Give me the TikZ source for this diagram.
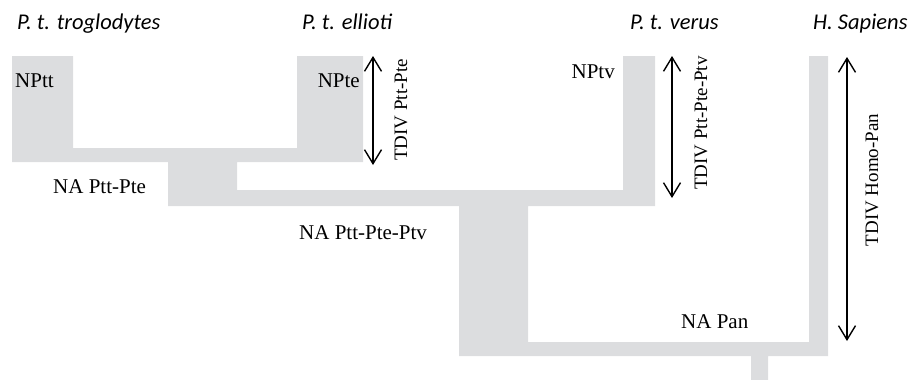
\documentclass[tikz,border=0pt]{standalone}
\usepackage{fontspec}
\setmainfont{Liberation Serif}
\newfontfamily\labelfont{Carlito}
\usetikzlibrary{arrows.meta}
\definecolor{branchgray}{RGB}{220,221,223}
\tikzset{
    taxon/.style={font=\labelfont\itshape\fontsize{22.5}{26}\selectfont, anchor=base west, inner sep=0pt},
    pop/.style={font=\fontsize{21}{25}\selectfont, inner sep=0pt},
    tdivlabel/.style={font=\fontsize{19}{23}\selectfont, rotate=90, anchor=base, inner sep=0pt},
    tdiv/.style={line width=1.4pt, {Straight Barb[length=14pt,width=17pt]}-{Straight Barb[length=14pt,width=17pt]}}
}
\begin{document}
\begin{tikzpicture}[x=1pt,y=-1pt]
        \useasboundingbox (0,0) rectangle (911,380);
        % branches
        \fill[branchgray] (12,56) rectangle (73,148)
            (12,148) rectangle (363,162)
            (297,56) rectangle (363,148)
            (168,162) rectangle (237,190)
            (168,190) rectangle (655,206)
            (623,56) rectangle (655,190)
            (459,206) rectangle (528,356)
            (459,342) rectangle (828,356)
            (809,56) rectangle (828,342)
            (751,356) rectangle (768,380);
        % taxa
        \node[taxon] (ptt) at (17,29) {P. t. troglodytes};
        \node[taxon] (pte) at (302,29) {P. t. ellioti};
        \node[taxon] (ptv) at (630,29) {P. t. verus};
        \node[taxon] (hsap) at (813,29) {H. Sapiens};
        % population sizes
        \node[pop, anchor=base west] (npt) at (15,87) {NPtt};
        \node[pop, anchor=base east] (npe) at (360,87) {NPte};
        \node[pop, anchor=base east] (npv) at (615,78) {NPtv};
        \node[pop, anchor=base west] (na1) at (53,193) {NA Ptt-Pte};
        \node[pop, anchor=base west] (na2) at (299,239) {NA Ptt-Pte-Ptv};
        \node[pop, anchor=base west] (na3) at (681,328) {NA Pan};
        % divergence times
        \coordinate (t1top) at (373,56);
        \coordinate (t1bot) at (373,165);
        \coordinate (t2top) at (672,56);
        \coordinate (t2bot) at (672,198);
        \coordinate (t3top) at (847,57);
        \coordinate (t3bot) at (847,341);
        \draw[tdiv] (t1top) -- (t1bot);
        \draw[tdiv] (t2top) -- (t2bot);
        \draw[tdiv] (t3top) -- (t3bot);
        \node[tdivlabel] (td1) at (407,110) {TDIV Ptt-Pte};
        \node[tdivlabel] (td2) at (707,123) {TDIV Ptt-Pte-Ptv};
        \node[tdivlabel] (td3) at (878,180) {TDIV Homo-Pan};
\end{tikzpicture}
\end{document}
